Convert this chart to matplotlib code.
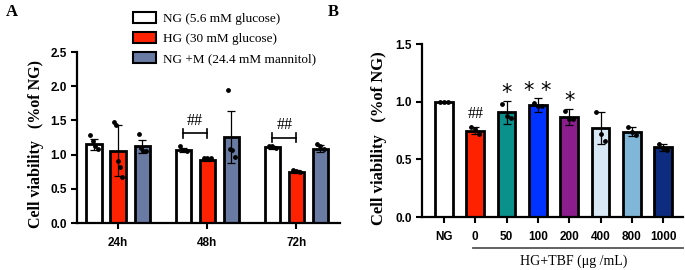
import matplotlib
matplotlib.use("Agg")
import matplotlib.pyplot as plt
from matplotlib.patches import Patch
import numpy as np

# ---------------- Data: panel A ----------------
groups_A = ["24h", "48h", "72h"]
series_A = ["NG (5.6 mM glucose)", "HG (30 mM glucose)", "NG +M (24.4 mM mannitol)"]
colors_A = ["#FFFFFF", "#FF2200", "#6A7BA3"]
means_A = [[1.15, 1.07, 1.11],   # NG
           [1.06, 0.92, 0.75],   # HG
           [1.12, 1.26, 1.09]]   # NG+M
sd_A = [[0.08, 0.03, 0.02],
        [0.37, 0.02, 0.02],
        [0.10, 0.38, 0.05]]
points_A = [
    [[1.29, 1.20, 1.12, 1.08], [1.12, 1.07, 1.05], [1.13, 1.12, 1.10]],
    [[1.48, 1.44, 0.91, 0.82, 0.68], [0.95, 0.95, 0.95], [0.78, 0.76, 0.74]],
    [[1.30, 1.10, 1.06, 1.05], [1.94, 1.09, 1.07, 0.96], [1.15, 1.12, 1.08]],
]
sig_A = ["", "##", "##"]
sig_A_y = [0, 1.31, 1.25]

# ---------------- Data: panel B ----------------
cats_B = ["NG", "0", "50", "100", "200", "400", "800", "1000"]
colors_B = ["#FFFFFF", "#FF2200", "#0A918C", "#0033FF", "#8B1D8D",
            "#D8E9F5", "#80B6D8", "#0D2C80"]
means_B = [1.00, 0.75, 0.91, 0.97, 0.87, 0.77, 0.74, 0.605]
sd_B = [0.0, 0.03, 0.10, 0.06, 0.07, 0.14, 0.04, 0.03]
points_B = [[1.0, 1.0, 1.0], [0.78, 0.76, 0.72], [0.98, 0.88, 0.86],
            [0.99, 0.96, 0.96], [0.92, 0.85, 0.85], [0.91, 0.72, 0.66],
            [0.78, 0.74, 0.71], [0.63, 0.60, 0.58]]
sig_B = ["", "##", "*", "**", "*", "", "", ""]

# ---------------- Figure ----------------
fig = plt.figure(figsize=(6.85, 2.70), dpi=100)
serif = "Liberation Serif"
sans = "Liberation Sans"
ylabel_text = "Cell viability   (%of NG)"

def style_axes(ax):
    for s in ["top", "right"]:
        ax.spines[s].set_visible(False)
    for s in ["left", "bottom"]:
        ax.spines[s].set_linewidth(1.6)
    ax.tick_params(axis="both", width=1.5, length=4, labelsize=8.5)
    for lbl in ax.get_xticklabels() + ax.get_yticklabels():
        lbl.set_fontfamily(sans)
        lbl.set_fontweight("bold")

# ---- Panel A ----
axA = fig.add_axes([0.1124, 0.174, 0.384, 0.633])
x = np.arange(len(groups_A))
offs = [-0.27, 0.0, 0.27]
bw = 0.17
for i in range(3):
    xs = x + offs[i]
    axA.bar(xs, means_A[i], width=bw, color=colors_A[i], edgecolor="black",
            linewidth=2.0, zorder=2)
    axA.errorbar(xs, means_A[i], yerr=sd_A[i], fmt="none", ecolor="black",
                 elinewidth=0.9, capsize=3, capthick=0.9, zorder=3)
    for j in range(3):
        pts = points_A[i][j]
        n = len(pts)
        jit = np.linspace(-0.04, 0.04, n) if n > 1 else [0]
        axA.scatter(xs[j] + np.array(jit), pts, s=6, color="black", zorder=4)
for j, s in enumerate(sig_A):
    if s:
        x0, x1 = x[j] + offs[0], x[j] + offs[1]
        yv = sig_A_y[j]
        axA.plot([x0, x1], [yv, yv], color="black", lw=1.2)
        axA.plot([x0, x0], [yv - 0.06, yv + 0.06], color="black", lw=1.2)
        axA.plot([x1, x1], [yv - 0.06, yv + 0.06], color="black", lw=1.2)
        axA.text((x0 + x1) / 2, yv + 0.07, s, ha="center", va="bottom",
                 fontsize=11.5, fontfamily=serif)
axA.set_xlim(-0.46, 2.49)
axA.set_ylim(0, 2.5)
axA.set_yticks([0.0, 0.5, 1.0, 1.5, 2.0, 2.5])
axA.set_yticklabels(["0.0", "0.5", "1.0", "1.5", "2.0", "2.5"])
axA.set_xticks(x)
axA.set_xticklabels(groups_A)
axA.tick_params(axis="x", pad=6)
style_axes(axA)
fig.text(36 / 685, 1 - 144 / 270, ylabel_text, rotation=90, ha="center",
         va="center", fontfamily=serif, fontweight="bold", fontsize=11.5)

handles = [Patch(facecolor=c, edgecolor="black", linewidth=1.5) for c in colors_A]
fig.legend(handles, series_A, loc="upper left", bbox_to_anchor=(0.186, 0.975),
           frameon=False, prop={"family": serif, "size": 9.5},
           handlelength=1.8, handleheight=0.85, handletextpad=0.5,
           labelspacing=0.55, borderaxespad=0)

# ---- Panel B ----
axB = fig.add_axes([0.616, 0.196, 0.381, 0.641])
xb = np.arange(len(cats_B))
axB.bar(xb, means_B, width=0.56, color=colors_B, edgecolor="black",
        linewidth=2.0, zorder=2)
axB.errorbar(xb, means_B, yerr=sd_B, fmt="none", ecolor="black",
             elinewidth=0.9, capsize=3, capthick=0.9, zorder=3)
for j, pts in enumerate(points_B):
    jit = np.linspace(-0.13, 0.13, len(pts))
    axB.scatter(xb[j] + jit, pts, s=6, color="black", zorder=4)
for j, s in enumerate(sig_B):
    if s:
        top = means_B[j] + sd_B[j]
        if s.startswith("#"):
            axB.text(xb[j], top + 0.04, s, ha="center", va="bottom",
                     fontsize=11.5, fontfamily=serif)
        else:
            axB.text(xb[j], top - 0.02, " ".join(s) if len(s) > 1 else s,
                     ha="center", va="bottom",
                     fontsize=15, fontfamily="DejaVu Sans")
axB.set_xlim(-0.70, 7.63)
axB.set_ylim(0, 1.5)
axB.set_yticks([0.0, 0.5, 1.0, 1.5])
axB.set_yticklabels(["0.0", "0.5", "1.0", "1.5"])
axB.set_xticks(xb)
axB.set_xticklabels(cats_B)
axB.tick_params(axis="x", pad=6)
style_axes(axB)
fig.text(379 / 685, 1 - 138 / 270, ylabel_text, rotation=90, ha="center",
         va="center", fontfamily=serif, fontweight="bold", fontsize=12)
trans = axB.get_xaxis_transform()
axB.plot([0.93, 7.63], [-0.18, -0.18], transform=trans, color="#555555",
         lw=1.3, clip_on=False)
axB.text(4.15, -0.255, "HG+TBF (μg /mL)", transform=trans, ha="center",
         va="center", fontsize=10, fontfamily=serif)

fig.text(0.008, 0.955, "A", fontsize=12, fontweight="bold", fontfamily=serif,
         ha="left", va="center")
fig.text(0.478, 0.955, "B", fontsize=12, fontweight="bold", fontfamily=serif,
         ha="left", va="center")

fig.savefig("out.png", dpi=100)
